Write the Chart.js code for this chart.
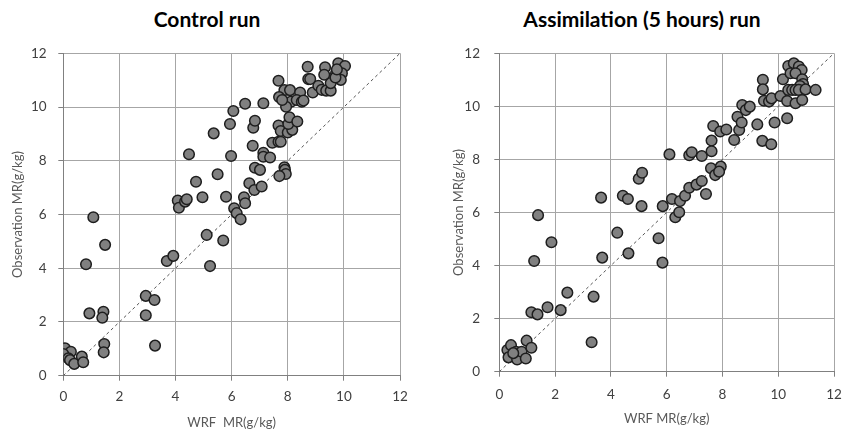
<!DOCTYPE html>
<html>
<head>
<meta charset="utf-8">
<script src="https://cdn.jsdelivr.net/npm/chart.js@4.4.0/dist/chart.umd.min.js"></script>
<style>
  body { margin: 0; background: #fff; width: 847px; height: 434px; position: relative; overflow: hidden; font-family: Lato, sans-serif; }
  .title { position: absolute; top: 6px; font-weight: bold; font-size: 21px; color: #000; transform: translateX(-50%); white-space: nowrap; }
  canvas { position: absolute; top: 0; }
</style>
</head>
<body>
<div class="title" style="left:207px">Control run</div>
<div class="title" style="left:642px">Assimilation (5 hours) run</div>
<canvas id="control_chart" width="420" height="434" style="left:0"></canvas>
<canvas id="assim_chart" width="417" height="434" style="left:430px"></canvas>
<script>
// data block
const axisTicks = [0, 2, 4, 6, 8, 10, 12];
const oneToOne = [0, 12];

const controlWrf = [
  0.06, 0.27, 0.0, 0.18, 0.24, 0.39, 0.66, 0.71,
  0.81, 1.07, 0.93, 1.43, 1.39, 1.49, 1.46, 1.44,
  2.94, 2.94, 3.25, 3.27, 3.69, 3.92,
  4.08, 4.12, 4.34, 4.4, 4.73, 4.96, 5.11, 5.23, 5.7, 5.8,
  6.09, 6.18, 6.32, 6.44, 6.48, 6.63, 6.81,
  4.48, 5.36, 5.5, 5.94, 5.98, 6.06, 6.48, 6.75, 6.77, 6.83, 6.83, 7.01, 7.07,
  7.13, 7.13, 7.13, 7.37, 7.45, 7.67, 7.75, 7.67, 7.75, 8.0, 8.16, 8.02, 8.06, 8.34,
  7.88, 7.9, 7.93, 7.7,
  7.67, 7.88, 8.08, 8.44, 7.69, 8.12, 8.32, 8.5, 8.56, 7.94, 7.8,
  8.89, 9.09, 9.21, 9.37, 9.53, 8.71, 8.73, 8.8, 9.33, 9.3,
  9.8, 10.04, 9.72, 9.93, 9.89, 9.53, 9.7, 9.75
];
const controlObs = [
  1.02, 0.89, 0.81, 0.65, 0.58, 0.44, 0.71, 0.5,
  4.15, 5.9, 2.32, 2.38, 2.16, 4.87, 1.18, 0.87,
  2.97, 2.25, 2.82, 1.12, 4.27, 4.46,
  6.52, 6.25, 6.48, 6.57, 7.22, 6.64, 5.24, 4.08, 5.03, 6.66,
  6.23, 6.05, 5.82, 6.64, 6.42, 7.16, 6.91,
  8.24, 9.02, 7.5, 9.37, 8.18, 9.85, 10.12, 8.56, 9.23, 9.49, 7.74, 7.66, 7.04,
  10.14, 8.3, 8.15, 8.12, 8.67, 8.71, 8.71, 9.31, 9.11, 9.05, 9.15, 9.37, 9.62, 9.46,
  7.76, 7.66, 7.51, 7.43,
  10.98, 10.63, 10.63, 10.54, 10.37, 10.2, 10.26, 10.2, 10.24, 10.01, 10.26,
  10.54, 10.79, 10.64, 10.61, 10.61, 11.5, 11.04, 11.04, 11.48, 11.2,
  11.63, 11.53, 11.26, 11.26, 11.01, 10.89, 11.1, 11.4
];

const assimWrf = [
  0.29, 0.42, 0.33, 0.6, 0.64, 0.8, 0.95, 0.98, 1.15, 0.5,
  1.15, 1.37, 1.73, 2.2, 1.25, 1.39, 1.87, 2.44, 3.31, 3.38,
  3.65, 3.69, 4.23, 4.43, 4.61, 4.63, 5.0, 5.12, 5.1, 5.71, 5.85, 5.86,
  6.1, 6.19, 6.31, 6.45, 6.48, 6.66, 6.81, 6.81, 6.9, 7.07, 7.26, 7.26, 7.41,
  7.59, 7.61, 7.61, 7.67, 7.74, 7.92, 8.14, 7.94, 7.88,
  8.42, 8.54, 8.6, 8.69, 8.71, 8.84, 8.98, 9.25, 9.43, 9.75, 9.87,
  9.45, 9.45, 9.49, 9.67, 9.76, 10.08, 10.17, 10.32, 10.32,
  10.36, 10.56, 10.74, 10.84, 10.44, 10.62, 10.86, 10.89, 10.78,
  10.36, 10.5, 10.62, 10.74, 10.98, 11.34, 10.62, 10.86
];
const assimObs = [
  0.82, 1.0, 0.54, 0.75, 0.46, 0.75, 0.5, 1.17, 0.9, 0.7,
  2.24, 2.16, 2.43, 2.32, 4.17, 5.9, 4.88, 2.98, 1.11, 2.83,
  6.56, 4.3, 5.24, 6.63, 6.51, 4.46, 7.27, 7.5, 6.24, 5.03, 4.11, 6.24,
  8.19, 6.51, 5.82, 6.01, 6.43, 6.63, 6.93, 8.16, 8.27, 7.05, 7.19, 8.13, 6.7,
  7.67, 8.71, 8.31, 9.26, 7.41, 9.05, 9.13, 7.73, 7.54,
  8.73, 9.61, 9.11, 9.39, 10.05, 9.86, 9.99, 9.32, 8.7, 8.57, 9.39,
  11.0, 10.64, 10.21, 10.18, 10.3, 10.39, 11.02, 9.55, 10.2,
  11.52, 11.62, 11.5, 11.37, 11.25, 11.25, 11.02, 10.84, 10.77,
  10.62, 10.62, 10.62, 10.62, 10.64, 10.62, 10.12, 10.24
];

// config block
const toPoints = (xs, ys) => xs.map((x, i) => ({ x: x, y: ys[i] }));

function makeConfig(xs, ys, opt) {
  const axis = (title, extra) => ({
    type: 'linear',
    min: 0,
    max: 12,
    afterBuildTicks: s => { s.ticks = axisTicks.map(v => ({ value: v })); },
    grid: { color: '#a6a6a6', tickColor: '#808080', tickLength: 5, lineWidth: 1 },
    border: { color: '#808080' },
    ticks: { color: '#404040', font: { family: 'Lato', size: 13.5 }, padding: extra.tickPad },
    title: {
      display: true,
      text: title,
      color: '#595959',
      font: { family: 'Lato', size: 13 },
      padding: extra.titlePad
    },
    afterFit: extra.fit
  });
  return {
    type: 'scatter',
    data: {
      datasets: [{
        data: toPoints(xs, ys),
        backgroundColor: '#808080',
        borderColor: '#1e1e1e',
        borderWidth: 1.5,
        pointRadius: 5.3,
        order: 1
      }, {
        type: 'line',
        data: toPoints(oneToOne, oneToOne),
        borderColor: '#555555',
        borderWidth: 1,
        borderDash: [3, 3],
        pointRadius: 0,
        fill: false,
        order: 2
      }]
    },
    options: {
      responsive: false,
      animation: false,
      layout: { padding: { left: 0, top: 53.3, right: opt.padRight, bottom: 0 } },
      plugins: { legend: { display: false }, tooltip: { enabled: false } },
      scales: {
        x: axis(opt.xTitle, {
          tickPad: opt.xTickPad,
          titlePad: { top: 0, bottom: opt.xTitleBottom },
          // fixed height, and no extra room asked for the end labels
          fit: s => { s.height = opt.xHeight; s.paddingLeft = 0; s.paddingRight = 0; }
        }),
        y: axis('Observation MR(g/kg)', {
          tickPad: opt.yTickPad,
          titlePad: { top: opt.yTitleTop, bottom: 0 },
          fit: s => { s.width = opt.yWidth; s.paddingTop = 0; s.paddingBottom = 0; }
        })
      }
    }
  };
}

// render init block
const control_chart = new Chart(
  document.getElementById('control_chart'),
  makeConfig(controlWrf, controlObs, {
    xTitle: 'WRF  MR(g/kg)', padRight: 20, xHeight: 58.3, yWidth: 63.3,
    xTickPad: 8, yTickPad: 11.6, xTitleBottom: 3.5, yTitleTop: 9.9
  })
);

const assim_chart = new Chart(
  document.getElementById('assim_chart'),
  makeConfig(assimWrf, assimObs, {
    xTitle: 'WRF MR(g/kg)', padRight: 13, xHeight: 62.3, yWidth: 69.3,
    xTickPad: 10, yTickPad: 14.3, xTitleBottom: 6.9, yTitleTop: 21.4
  })
);
</script>
</body>
</html>
